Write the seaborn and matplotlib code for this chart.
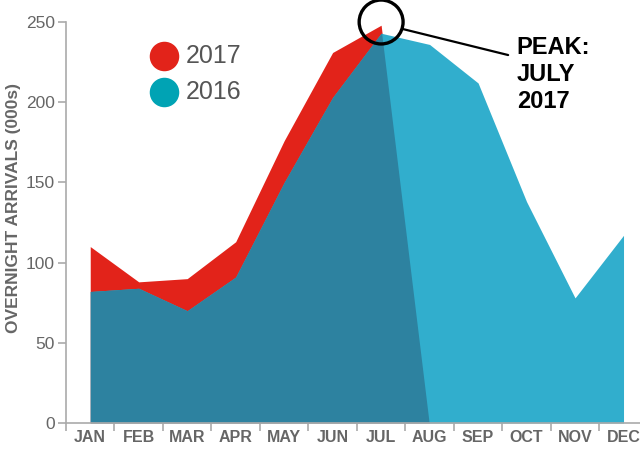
import numpy as np
import pandas as pd
import matplotlib
matplotlib.use("Agg")
import matplotlib.pyplot as plt
import seaborn as sns
from matplotlib.patches import Polygon

months = ["JAN", "FEB", "MAR", "APR", "MAY", "JUN", "JUL", "AUG", "SEP", "OCT", "NOV", "DEC"]
arrivals_2016 = [82, 84, 70, 91, 150, 203, 243, 236, 212, 138, 78, 117]
arrivals_2017 = [110, 88, 90, 113, 176, 231, 248, 0]  # series drops to zero after July
y_ticks = [0, 50, 100, 150, 200, 250]

sns.set_theme(style="ticks")
FONT = ["Liberation Sans", "DejaVu Sans"]
plt.rcParams["font.family"] = FONT

RED = "#e2231a"
CYAN = "#31aecd"
DARK = "#2d82a0"
LEG16 = "#00a3b4"
GREY = "#666666"

df16 = pd.DataFrame({"month": months, "x": np.arange(len(months)), "v": arrivals_2016})
df17 = pd.DataFrame({"month": months[:len(arrivals_2017)], "x": np.arange(len(arrivals_2017)), "v": arrivals_2017})

fig = plt.figure(figsize=(6.4, 4.55), dpi=100)
ax = fig.add_axes([66 / 640, 32 / 455, 574 / 640, 401 / 455])

# 2017 area (red)
ax.fill_between(df17["x"], 0, df17["v"], color=RED, lw=0, zorder=1)
# 2016 area (cyan)
ax.fill_between(df16["x"], 0, df16["v"], color=CYAN, lw=0, zorder=2)
# overlap area (dark)
overlap = ax.fill_between(df16["x"], 0, df16["v"], color=DARK, lw=0, zorder=3)
clip_pts = np.column_stack([np.r_[df17["x"].values, df17["x"].values[::-1]],
                            np.r_[df17["v"].values, np.zeros(len(df17))]])
clip_poly = Polygon(clip_pts, closed=True, transform=ax.transData, facecolor="none", edgecolor="none")
ax.add_patch(clip_poly)
overlap.set_clip_path(clip_poly)

# invisible seaborn line to keep the data bound to axes
sns.lineplot(data=df16, x="x", y="v", ax=ax, lw=0, color=CYAN, zorder=0)

ax.set_xlim(-0.5, 11.34)
ax.set_ylim(0, 250)
ax.set_yticks(y_ticks)
ax.set_yticklabels([str(t) for t in y_ticks], fontsize=12.5, color=GREY)
ax.set_xticks(np.arange(len(months)))
ax.set_xticklabels(months, fontsize=11.5, color=GREY, fontweight="bold")
ax.set_xticks(np.arange(len(months)) - 0.5, minor=True)
ax.tick_params(axis="x", which="major", length=0, pad=5)
ax.tick_params(axis="x", which="minor", length=6, color="#aaaaaa", width=1.2)
ax.tick_params(axis="y", length=6, color="#aaaaaa", width=1.2, pad=2)
ax.set_xlabel("")
ax.set_ylabel("OVERNIGHT ARRIVALS (000s)", fontsize=12.5, color=GREY, fontweight="bold")
ax.yaxis.set_label_coords(-0.078, 0.536)
for s in ["top", "right"]:
    ax.spines[s].set_visible(False)
for s in ["left", "bottom"]:
    ax.spines[s].set_color("#aaaaaa")
    ax.spines[s].set_linewidth(1.2)
    ax.spines[s].set_zorder(5)

# legend
ax.scatter([0.171], [0.915], s=410, color=RED, transform=ax.transAxes, clip_on=False, zorder=6)
ax.scatter([0.171], [0.825], s=410, color=LEG16, transform=ax.transAxes, clip_on=False, zorder=6)
ax.text(0.208, 0.915, "2017", transform=ax.transAxes, fontsize=18, color="#555555", va="center", ha="left")
ax.text(0.208, 0.825, "2016", transform=ax.transAxes, fontsize=18, color="#555555", va="center", ha="left")

# peak annotation
peak_i = int(np.argmax(arrivals_2017))
ax.scatter([peak_i], [250], s=1000, facecolor="none", edgecolor="black", linewidth=2.4, clip_on=False, zorder=7)
ax.plot([6.45, 8.62], [245.6, 229.4], color="black", lw=1.6, clip_on=False, zorder=7)
ax.text(8.80, 241, "PEAK:\nJULY\n2017", fontsize=17, fontweight="bold", color="black",
        va="top", ha="left", linespacing=1.2, zorder=7)

fig.savefig("out.png", dpi=100)
